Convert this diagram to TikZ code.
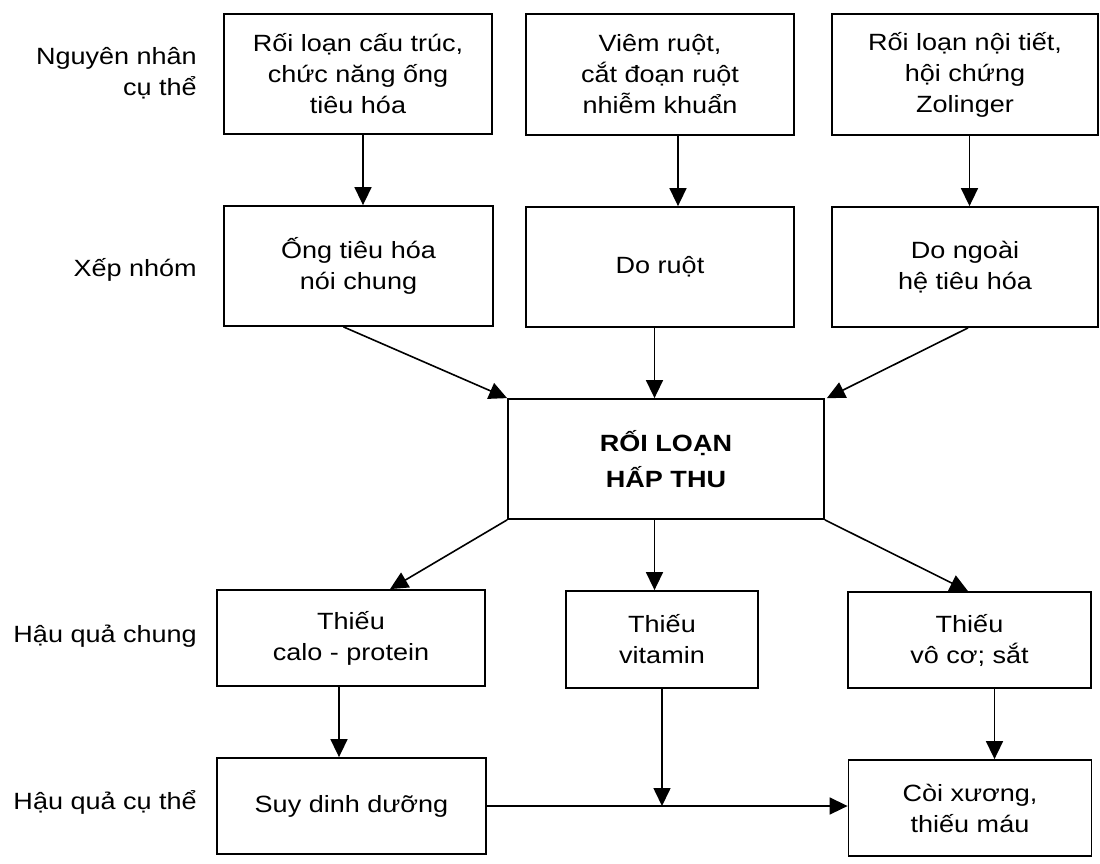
\documentclass[tikz,border=0pt]{standalone}
\usepackage{fontspec}
\setmainfont{Liberation Sans}[FakeStretch=1.15]
\usetikzlibrary{arrows.meta}

\begin{document}
\begin{tikzpicture}[x=1pt, y=-1pt,
  txt/.style={font=\fontsize{23.5}{31}\selectfont, align=center},
  box/.style={txt, draw, line width=1.8pt, inner sep=0pt},
  lbl/.style={font=\fontsize{23.5}{31}\selectfont, align=right, anchor=east, inner sep=0pt},
  arr/.style={line width=1.6pt, -{Triangle[length=18pt, width=17pt]}},
  ln/.style={line width=1.6pt}
]
\useasboundingbox[fill=white] (0,0) rectangle (1100,863);

% left-hand row labels
\node[lbl] (l1) at (197,73) {Nguyên nhân\\cụ thể};
\node[lbl] (l2) at (197,270) {Xếp nhóm};
\node[lbl] (l3) at (197,636) {Hậu quả chung};
\node[lbl] (l4) at (197,802) {Hậu quả cụ thể};

% specific causes
\node[box, minimum width=268pt, minimum height=120pt] (a1) at (358,74)
  {Rối loạn cấu trúc,\\chức năng ống\\tiêu hóa};
\node[box, minimum width=268pt, minimum height=121pt] (b1) at (660,74.5)
  {Viêm ruột,\\cắt đoạn ruột\\nhiễm khuẩn};
\node[box, minimum width=266pt, minimum height=121pt] (c1) at (965,74.5)
  {Rối loạn nội tiết,\\hội chứng\\Zolinger};

% groups
\node[box, minimum width=269pt, minimum height=120pt] (a2) at (358.5,266)
  {Ống tiêu hóa\\nói chung};
\node[box, minimum width=268pt, minimum height=120pt] (b2) at (660,267)
  {Do ruột};
\node[box, minimum width=266pt, minimum height=120pt] (c2) at (965,267)
  {Do ngoài\\hệ tiêu hóa};

% central box
\node[box, minimum width=316pt, minimum height=120pt, font=\fontsize{23.5}{36}\selectfont\bfseries] (mid) at (666,459)
  {RỐI LOẠN\\HẤP THU};

% general consequences
\node[box, minimum width=268pt, minimum height=96pt] (calo) at (351,638)
  {Thiếu\\calo - protein};
\node[box, minimum width=192pt, minimum height=97pt] (vit) at (662,639.5)
  {Thiếu\\vitamin};
\node[box, minimum width=243pt, minimum height=96pt] (voco) at (969.5,640)
  {Thiếu\\vô cơ; sắt};

% specific consequences
\node[box, minimum width=269pt, minimum height=96pt] (suy) at (351.5,806)
  {Suy dinh dưỡng};
\node[box, minimum width=243pt, minimum height=96pt] (coi) at (970,808)
  {Còi xương,\\thiếu máu};

% causes to groups
\draw[arr] ([xshift=5pt]a1.south) -- ([xshift=5pt]a1.south |- a2.north);
\draw[arr] ([xshift=18pt]b1.south) -- ([xshift=18pt]b1.south |- b2.north);
\draw[arr] ([xshift=4.5pt]c1.south) -- ([xshift=4.5pt]c1.south |- c2.north);

% groups to the central box
\draw[arr] ([xshift=-15pt]a2.south) -- (mid.north west);
\draw[arr] ([xshift=-5.5pt]b2.south) -- ([xshift=-5.5pt]b2.south |- mid.north);
\draw[arr] ([xshift=3pt]c2.south) -- ([xshift=2pt]mid.north east);

% central box to general consequences
\draw[arr] (mid.south west) -- ([xshift=39pt]calo.north);
\draw[arr] ([xshift=-11.5pt]mid.south) -- ([xshift=-11.5pt]mid.south |- vit.north);
\draw[arr] (mid.south east) -- ([xshift=-1.5pt]voco.north);

% general to specific consequences
\draw[arr] ([xshift=-12pt]calo.south) -- ([xshift=-12pt]calo.south |- suy.north);
\draw[arr] ([xshift=25pt]voco.south) -- ([xshift=25pt]voco.south |- coi.north);

% joining line into the last box
\coordinate (join) at (vit.south |- suy.east);
\draw[arr] (suy.east) -- (coi.west |- suy.east);
\draw[arr] (vit.south) -- (join);
\end{tikzpicture}
\end{document}
